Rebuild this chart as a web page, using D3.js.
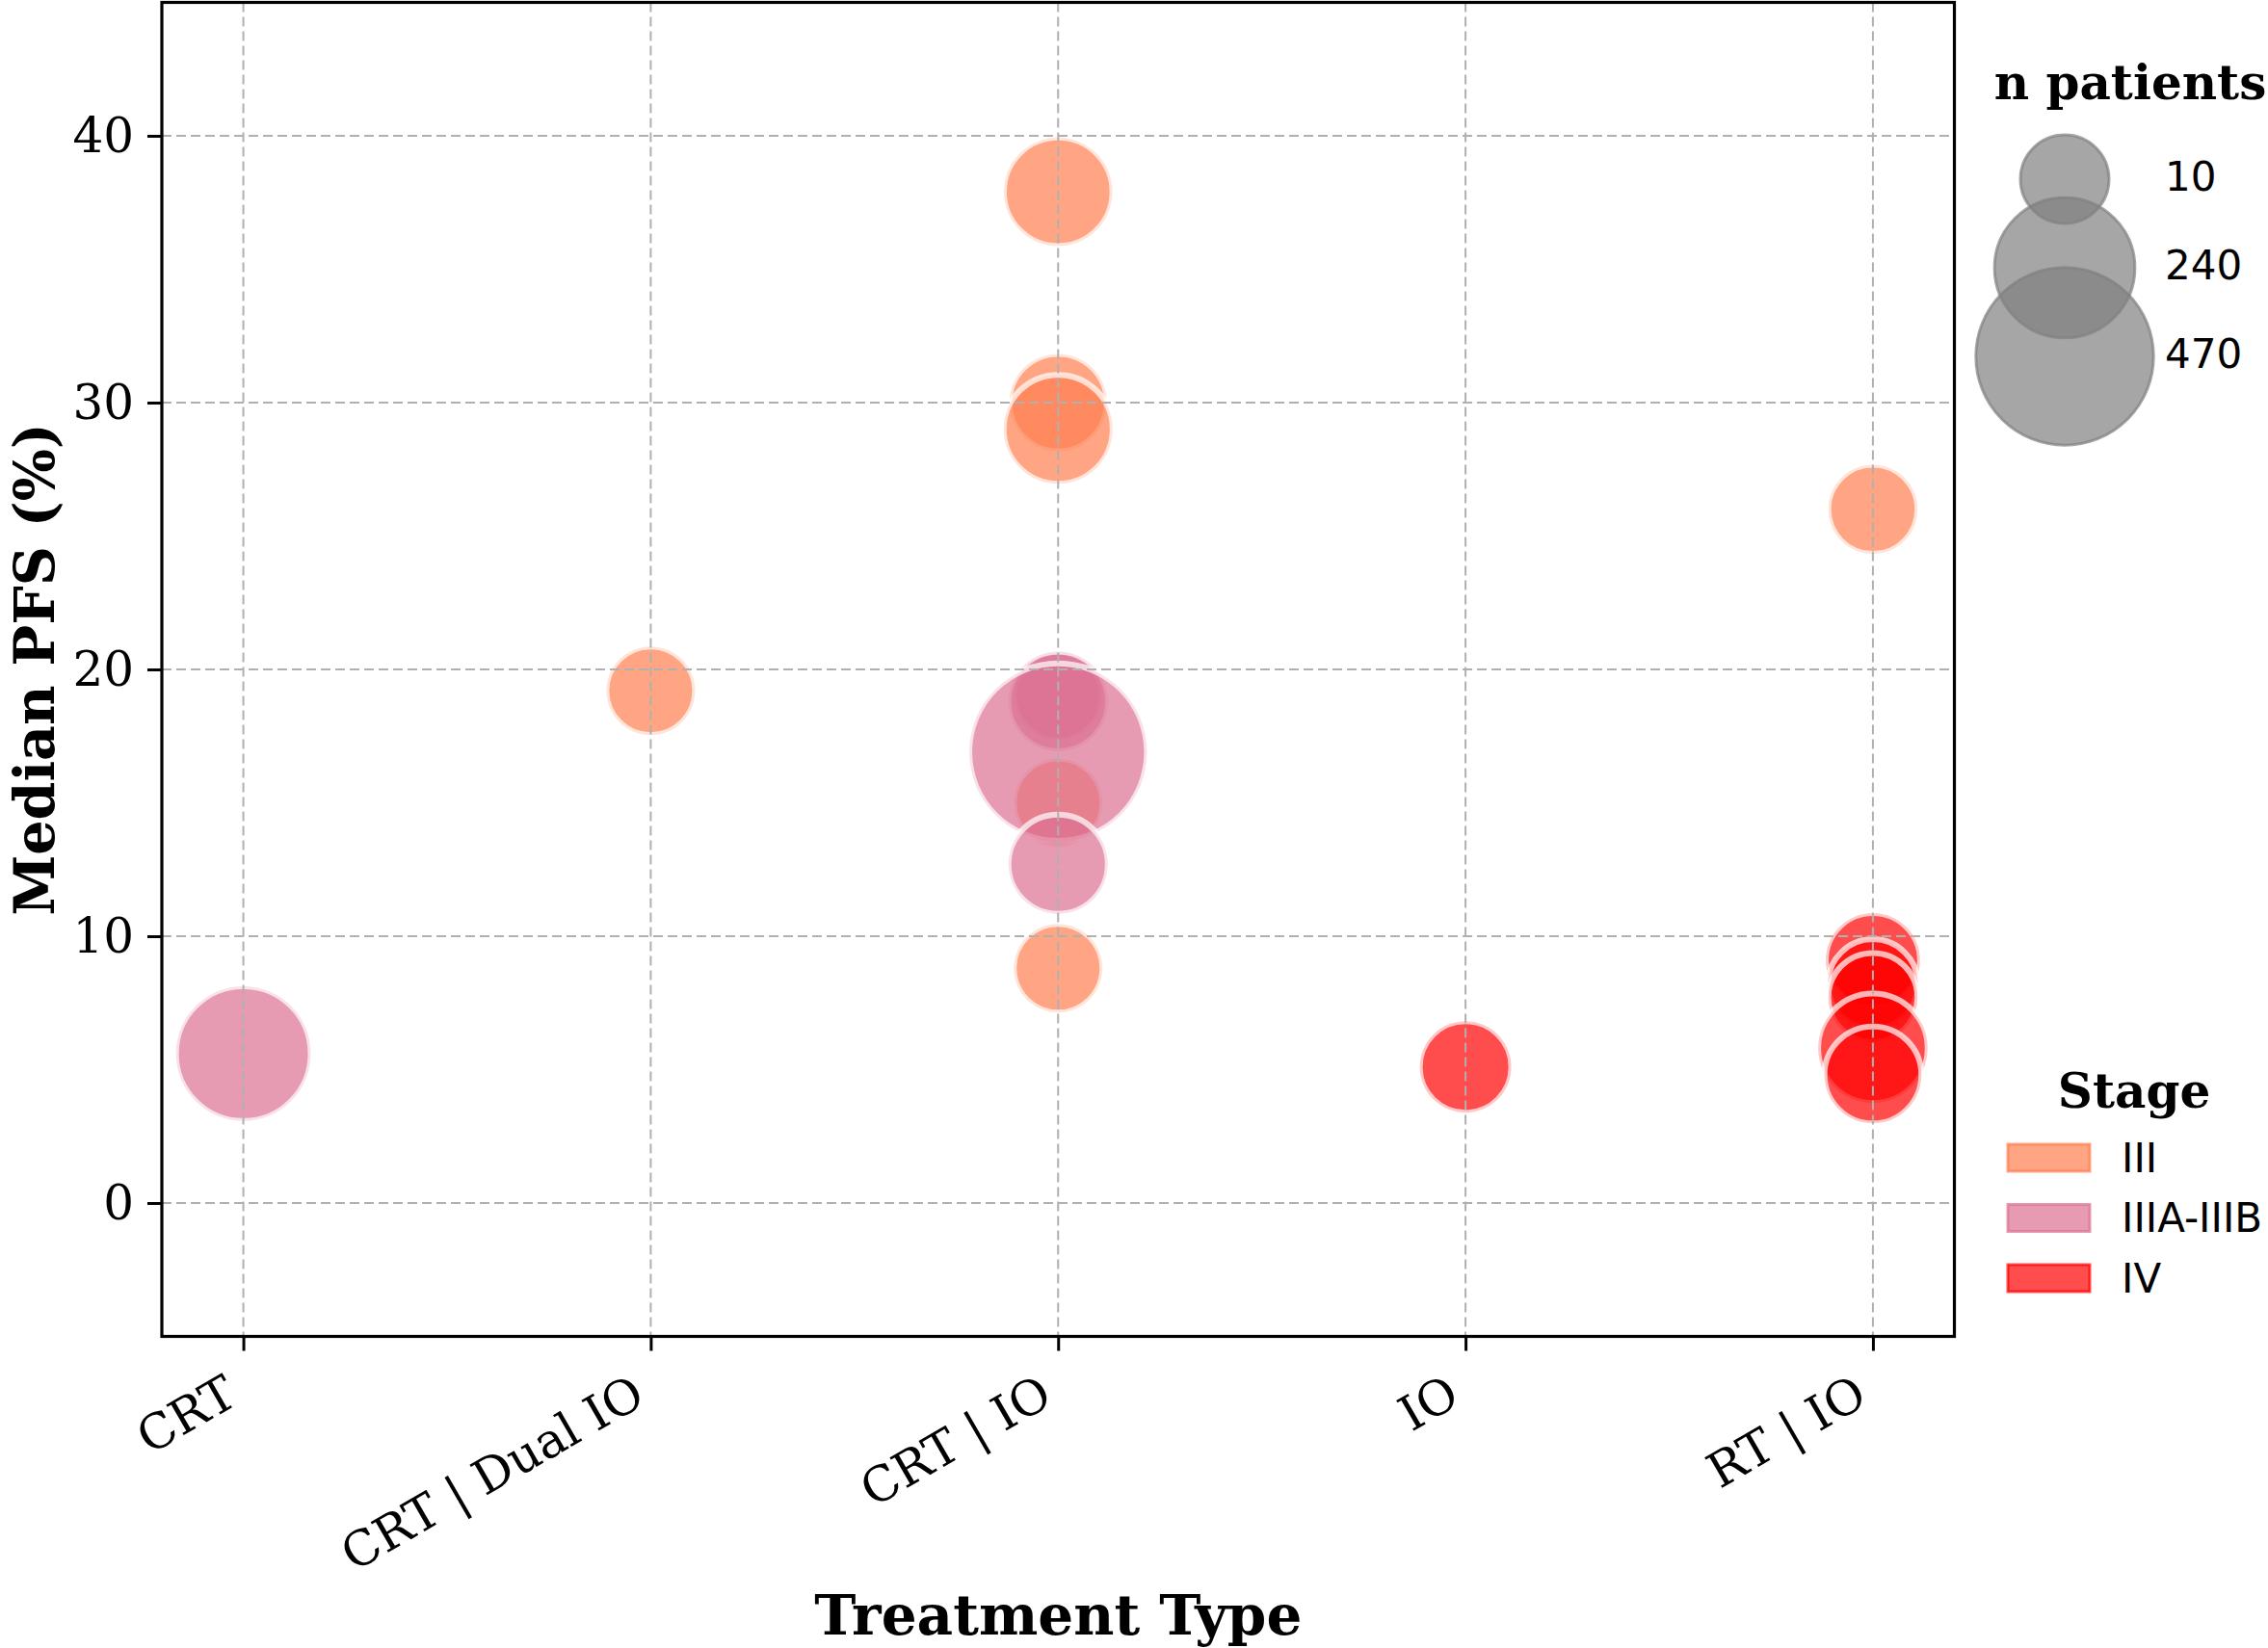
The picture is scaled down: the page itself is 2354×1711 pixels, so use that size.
<!DOCTYPE html>
<html>
<head>
<meta charset="utf-8">
<script src="https://cdn.jsdelivr.net/npm/d3@7"></script>
<style>
  body { margin: 0; background: #fff; }
  svg { display: block; }
</style>
</head>
<body>
<svg id="chart" width="2354" height="1711"></svg>
<script>
// data
const categories = ['CRT', 'CRT | Dual IO', 'CRT | IO', 'IO', 'RT | IO'];
const stages     = ['III', 'IIIA-IIIB', 'IV'];
const yTicks     = [0, 10, 20, 30, 40];
const sizeSteps  = [10, 240, 470];

const treatment = ['CRT', 'CRT | Dual IO', 'CRT | IO', 'CRT | IO', 'CRT | IO', 'CRT | IO', 'CRT | IO',
                   'CRT | IO', 'CRT | IO', 'CRT | IO', 'CRT | IO', 'IO', 'RT | IO', 'RT | IO',
                   'RT | IO', 'RT | IO', 'RT | IO', 'RT | IO'];
const medianPFS = [5.6, 19.2, 37.9, 30.0, 29.0, 19.0, 18.8, 15.0, 16.9, 12.7, 8.8, 5.1, 26.0, 9.1,
                   8.2, 7.7, 5.8, 4.8];
const nPatients = [210, 10, 86, 42, 88, 10, 50, 10, 470, 49, 10, 20, 12, 30, 15, 12, 90, 40];
const stage     = ['IIIA-IIIB', 'III', 'III', 'III', 'III', 'IIIA-IIIB', 'IIIA-IIIB', 'III', 'IIIA-IIIB',
                   'IIIA-IIIB', 'III', 'IV', 'III', 'IV', 'IV', 'IV', 'IV', 'IV'];

const serif = "'DejaVu Serif', serif";
const sans  = "'DejaVu Sans', sans-serif";

const svg = d3.select('#chart');
svg.append('rect').attr('width', 2354).attr('height', 1711).attr('fill', '#fff');

const pl = 168, pr = 2028.5, pt = 2.5, pb = 1387.5;

const x = d3.scaleLinear().domain([-0.2, categories.length - 1 + 0.2]).range([pl, pr]);
const y = d3.scaleLinear().domain([-5, 45]).range([pb, pt]);
const color = d3.scaleOrdinal().domain(stages).range(['#FF7F50', '#DB7093', '#FF0000']);
// bubble area grows linearly with n
const area = d3.scaleLinear().domain([10, 470]).range([2116, 8500]);
const radius = n => Math.sqrt(area(n));

const points = treatment.map((t, i) => ({
  t, v: medianPFS[i], n: nPatients[i], s: stage[i]
}));

// bubbles
svg.append('g').selectAll('circle').data(points).enter()
  .append('circle')
  .attr('cx', d => x(categories.indexOf(d.t)))
  .attr('cy', d => y(d.v))
  .attr('r', d => radius(d.n))
  .attr('fill', d => color(d.s))
  .attr('fill-opacity', 0.7)
  .attr('stroke', '#fff')
  .attr('stroke-opacity', 0.7)
  .attr('stroke-width', 6);

// grid (drawn over the bubbles like matplotlib does)
const grid = svg.append('g').attr('stroke', '#b0b0b0').attr('stroke-width', 2)
  .attr('stroke-dasharray', '10,5');
grid.selectAll('.gy').data(yTicks).enter().append('line')
  .attr('x1', pl).attr('x2', pr)
  .attr('y1', d => y(d)).attr('y2', d => y(d));
grid.selectAll('.gx').data(categories).enter().append('line')
  .attr('y1', pt).attr('y2', pb)
  .attr('x1', (d, i) => x(i)).attr('x2', (d, i) => x(i));

// axes
const yAxis = svg.append('g').attr('transform', `translate(${pl},0)`)
  .call(d3.axisLeft(y).tickValues(yTicks).tickSize(15).tickPadding(14));
const xAxis = svg.append('g').attr('transform', `translate(0,${pb})`)
  .call(d3.axisBottom(x).tickValues(d3.range(categories.length)).tickSize(15)
    .tickFormat(i => categories[i]));
[yAxis, xAxis].forEach(a => {
  a.select('.domain').remove();
  a.selectAll('.tick line').attr('stroke', '#000').attr('stroke-width', 3);
  a.selectAll('.tick text').attr('font-family', serif).attr('font-size', 50).attr('fill', '#000');
});
xAxis.selectAll('.tick text')
  .attr('text-anchor', 'end')
  .attr('dy', null)
  .attr('y', 0)
  .attr('transform', 'translate(-4,69) rotate(-30)');

// frame
svg.append('rect')
  .attr('x', pl).attr('y', pt)
  .attr('width', pr - pl).attr('height', pb - pt)
  .attr('fill', 'none').attr('stroke', '#000').attr('stroke-width', 3.2);

// axis titles
svg.append('text')
  .attr('x', (pl + pr) / 2).attr('y', 1697)
  .attr('text-anchor', 'middle')
  .attr('font-family', serif).attr('font-weight', 'bold').attr('font-size', 58)
  .text('Treatment Type');
svg.append('text')
  .attr('transform', `translate(56,${(pt + pb) / 2}) rotate(-90)`)
  .attr('text-anchor', 'middle')
  .attr('font-family', serif).attr('font-weight', 'bold').attr('font-size', 57)
  .text('Median PFS (%)');

// size legend
const sizeLeg = svg.append('g');
sizeLeg.append('text')
  .attr('x', 2211).attr('y', 103).attr('text-anchor', 'middle')
  .attr('font-family', serif).attr('font-weight', 'bold').attr('font-size', 50)
  .text('n patients');
const sizeY = d3.scalePoint().domain(sizeSteps).range([186, 370]);
sizeLeg.selectAll('circle').data(sizeSteps).enter().append('circle')
  .attr('cx', 2143).attr('cy', d => sizeY(d))
  .attr('r', d => radius(d))
  .attr('fill', 'gray').attr('fill-opacity', 0.7)
  .attr('stroke', 'gray').attr('stroke-opacity', 0.7).attr('stroke-width', 3);
sizeLeg.selectAll('.lbl').data(sizeSteps).enter().append('text')
  .attr('x', 2247).attr('y', d => sizeY(d) - 3)
  .attr('dominant-baseline', 'central')
  .attr('font-family', sans).attr('font-size', 42)
  .text(d => d);

// stage legend
const stageLeg = svg.append('g');
stageLeg.append('text')
  .attr('x', 2215).attr('y', 1150).attr('text-anchor', 'middle')
  .attr('font-family', serif).attr('font-weight', 'bold').attr('font-size', 50)
  .text('Stage');
const stageY = d3.scalePoint().domain(stages).range([1202, 1327]);
stageLeg.selectAll('rect').data(stages).enter().append('rect')
  .attr('x', 2084).attr('y', d => stageY(d) - 14)
  .attr('width', 85).attr('height', 28)
  .attr('fill', d => color(d)).attr('fill-opacity', 0.7)
  .attr('stroke', d => color(d)).attr('stroke-opacity', 0.7).attr('stroke-width', 3);
stageLeg.selectAll('.lbl').data(stages).enter().append('text')
  .attr('x', 2202).attr('y', d => stageY(d))
  .attr('dominant-baseline', 'central')
  .attr('font-family', sans).attr('font-size', 42)
  .text(d => d);
</script>
</body>
</html>
